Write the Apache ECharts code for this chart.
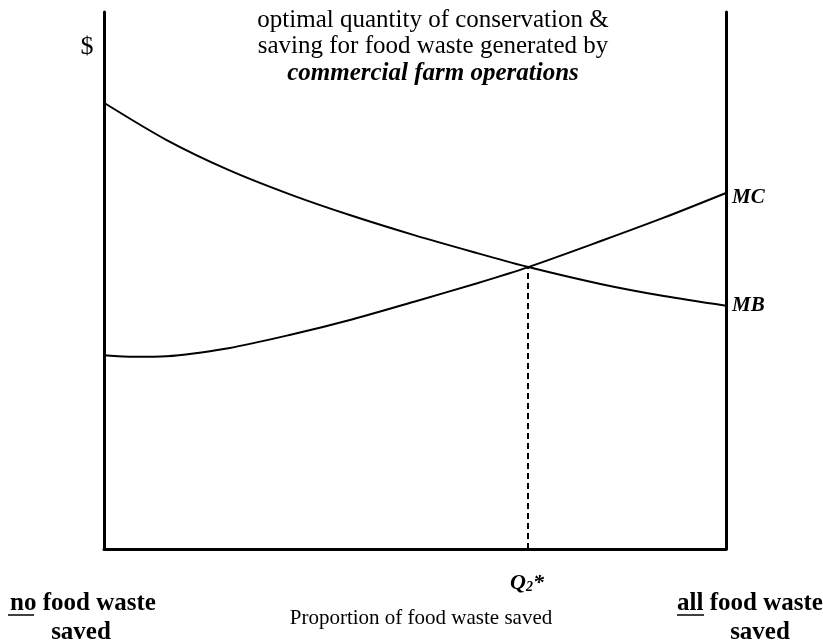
<!DOCTYPE html>
<html>
<head>
<meta charset="utf-8">
<script src="https://cdn.jsdelivr.net/npm/echarts@6/dist/echarts.min.js"></script>
<style>
  html, body { margin: 0; padding: 0; background: #fff; }
  #chart { width: 823px; height: 644px; }
</style>
</head>
<body>
<div id="chart"></div>
<script>
// proportion of food waste saved (0 - 100) and $ (0 - 100, arbitrary units)
var mbX = [0, 10, 20, 30, 40, 50, 60, 68.2, 80, 90, 100]
var mbY = [83.1, 76.2, 70.6, 66.0, 62.0, 58.4, 55.1, 52.5, 49.3, 47.1, 45.3]
var mcX = [0, 5, 10, 20, 30, 40, 50, 60, 68.2, 80, 90, 100]
var mcY = [36.1, 35.8, 35.9, 37.4, 39.9, 42.8, 46.1, 49.5, 52.5, 57.4, 61.7, 66.3]
// optimum Q2*
var qStar = 68.2
var qStarY = 52.5

var serif = '"Liberation Serif", "DejaVu Serif", serif'

function pairs(xs, ys) {
    return xs.map(function(x, i) {
        return [x, ys[i]]
    })
}

var chart = echarts.init(document.getElementById('chart'))

var endLabelStyle = {
    show: true,
    formatter: '{a}',
    distance: 6,
    color: '#000',
    fontFamily: serif,
    fontStyle: 'italic',
    fontWeight: 'bold',
    fontSize: 21
}

var option = {
    animation: false,
    backgroundColor: '#fff',
    grid: { left: 104, right: 97, top: 12, bottom: 95 },
    xAxis: {
        type: 'value',
        min: 0,
        max: 100,
        axisLine: { show: true, lineStyle: { color: '#000', width: 3 } },
        axisTick: { show: false },
        axisLabel: { show: false },
        splitLine: { show: false }
    },
    yAxis: [
        {
            type: 'value',
            min: 0,
            max: 100,
            axisLine: { show: true, lineStyle: { color: '#000', width: 3 } },
            axisTick: { show: false },
            axisLabel: { show: false },
            splitLine: { show: false }
        },
        {
            type: 'value',
            position: 'right',
            min: 0,
            max: 100,
            axisLine: { show: true, onZero: false, lineStyle: { color: '#000', width: 3 } },
            axisTick: { show: false },
            axisLabel: { show: false },
            splitLine: { show: false }
        }
    ],
    series: [
        {
            name: 'MB',
            type: 'line',
            smooth: 0.3,
            symbol: 'none',
            data: pairs(mbX, mbY),
            lineStyle: { color: '#000', width: 2 },
            endLabel: endLabelStyle
        },
        {
            name: 'MC',
            type: 'line',
            smooth: 0.3,
            symbol: 'none',
            data: pairs(mcX, mcY),
            lineStyle: { color: '#000', width: 2 },
            endLabel: Object.assign({}, endLabelStyle, { offset: [0, 5] }),
            markLine: {
                silent: true,
                symbol: 'none',
                label: { show: false },
                lineStyle: { color: '#000', width: 2, type: [6, 4] },
                data: [
                    [{ coord: [qStar, 0] }, { coord: [qStar, qStarY] }]
                ]
            }
        }
    ],
    graphic: [
        {
            type: 'text',
            x: 433,
            y: 7,
            style: {
                text: 'optimal quantity of conservation &\nsaving for food waste generated by\n{b|commercial farm operations}',
                align: 'center',
                verticalAlign: 'top',
                fill: '#000',
                font: '25px ' + serif,
                lineHeight: 26.5,
                rich: {
                    b: { fontFamily: serif, fontSize: 25, fontStyle: 'italic', fontWeight: 'bold', lineHeight: 26.5 }
                }
            }
        },
        {
            type: 'text',
            x: 87,
            y: 47,
            style: { text: '$', align: 'center', verticalAlign: 'middle', fill: '#000', font: '26px ' + serif }
        },
        {
            type: 'text',
            x: 527,
            y: 581,
            style: {
                text: '{q|Q}{s|2}{q|*}',
                align: 'center',
                verticalAlign: 'middle',
                fill: '#000',
                rich: {
                    q: { fontFamily: serif, fontSize: 22, fontStyle: 'italic', fontWeight: 'bold', lineHeight: 26, verticalAlign: 'bottom' },
                    s: { fontFamily: serif, fontSize: 14, fontStyle: 'italic', fontWeight: 'bold', lineHeight: 19, verticalAlign: 'bottom' }
                }
            }
        },
        {
            type: 'text',
            x: 421,
            y: 618,
            style: { text: 'Proportion of food waste saved', align: 'center', verticalAlign: 'middle', fill: '#000', font: '21px ' + serif }
        },
        {
            type: 'text',
            x: 83,
            y: 604,
            style: { text: 'no food waste', align: 'center', verticalAlign: 'middle', fill: '#000', font: 'bold 25px ' + serif }
        },
        {
            type: 'text',
            x: 81,
            y: 633,
            style: { text: 'saved', align: 'center', verticalAlign: 'middle', fill: '#000', font: 'bold 25px ' + serif }
        },
        {
            type: 'line',
            shape: { x1: 8, y1: 615, x2: 34, y2: 615 },
            style: { stroke: '#000', lineWidth: 1.5 }
        },
        {
            type: 'text',
            x: 750,
            y: 604,
            style: { text: 'all food waste', align: 'center', verticalAlign: 'middle', fill: '#000', font: 'bold 25px ' + serif }
        },
        {
            type: 'text',
            x: 760,
            y: 633,
            style: { text: 'saved', align: 'center', verticalAlign: 'middle', fill: '#000', font: 'bold 25px ' + serif }
        },
        {
            type: 'line',
            shape: { x1: 677, y1: 615, x2: 704, y2: 615 },
            style: { stroke: '#000', lineWidth: 1.5 }
        }
    ]
}

chart.setOption(option)
</script>
</body>
</html>
